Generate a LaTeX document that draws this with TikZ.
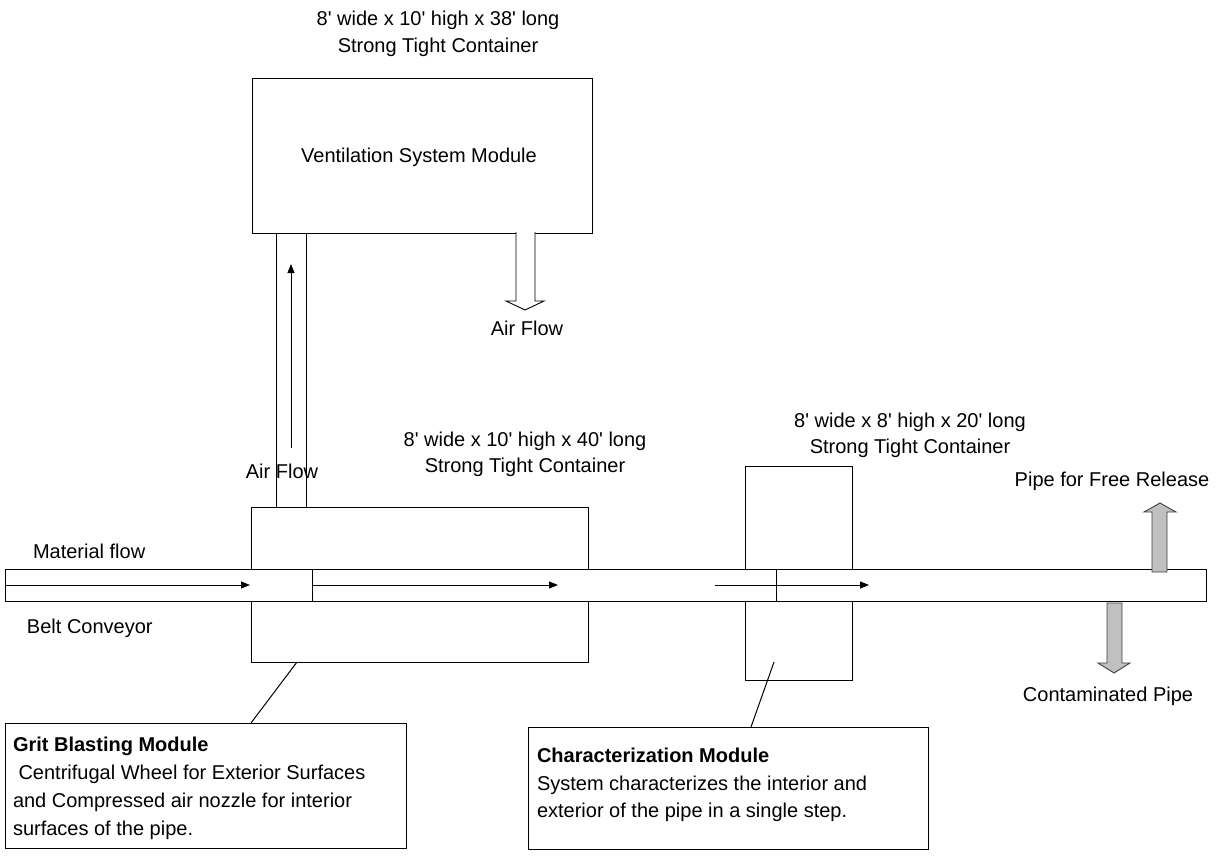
\documentclass[tikz,border=0pt]{standalone}
\usepackage{fontspec}
\setmainfont{Liberation Sans}
\usetikzlibrary{arrows.meta,calc}
\definecolor{pipegray}{RGB}{192,192,192}
\newcommand{\ap}{\textquotesingle}
\begin{document}
\begin{tikzpicture}[x=1pt,y=-1pt,line width=1pt,
  txt/.style={font=\fontsize{20}{27}\selectfont,inner sep=0pt,outer sep=0pt},
  rbox/.style={draw=black,fill=white,inner sep=0pt,outer sep=0pt,anchor=north west},
  flow/.style={-{Triangle[length=9pt,width=7pt]}},
  grayarrow/.style={draw=black!75,fill=pipegray,line width=0.9pt},
  ]
\useasboundingbox[fill=white] (0,0) rectangle (1225,856);

% Ventilation container
\node[rbox,minimum width=340pt,minimum height=154pt] (vent) at (252,79) {};
\node[txt,anchor=base] (venttxt) at (419,162) {Ventilation System Module};
\node[txt,anchor=base] (venttitle1) at (438,26) {8\ap{} wide x 10\ap{} high x 38\ap{} long};
\node[txt,anchor=base] (venttitle2) at (438,53) {Strong Tight Container};

% Duct from grit blasting to ventilation
\node[rbox,minimum width=30pt,minimum height=274pt] (duct) at (276,233) {};

% Grit blasting container
\node[rbox,minimum width=337pt,minimum height=155pt] (grit) at (251,507) {};
\node[txt,anchor=base] (grittitle1) at (525,446) {8\ap{} wide x 10\ap{} high x 40\ap{} long};
\node[txt,anchor=base] (grittitle2) at (525,472) {Strong Tight Container};

% Characterization container
\node[rbox,minimum width=107pt,minimum height=214pt] (char) at (745,466) {};
\node[txt,anchor=base] (chartitle1) at (910,427) {8\ap{} wide x 8\ap{} high x 20\ap{} long};
\node[txt,anchor=base] (chartitle2) at (910,453) {Strong Tight Container};

% Belt conveyor
\node[rbox,minimum width=1201pt,minimum height=32pt] (conv) at (5,569) {};
\draw (conv.north west -| 312,0) -- (conv.south west -| 312,0);
\draw (conv.north west -| 776,0) -- (conv.south west -| 776,0);
\node[txt,anchor=base west] (matflow) at (33,558) {Material flow};
\node[txt,anchor=base west] (beltconv) at (27,633) {Belt Conveyor};

% flow arrows on the conveyor
\coordinate (f1s) at (5,585);   \coordinate (f1e) at (250,585);
\coordinate (f2s) at (312,585); \coordinate (f2e) at (558,585);
\coordinate (f3s) at (715,585); \coordinate (f3e) at (869,585);
\draw[flow] (f1s) -- (f1e);
\draw[flow] (f2s) -- (f2e);
\draw[flow] (f3s) -- (f3e);

% air flow up the duct
\coordinate (a1s) at (291,448); \coordinate (a1e) at (291,264);
\draw[flow] (a1s) -- (a1e);
\node[txt,anchor=base] (airflow1) at (282,478) {Air Flow};

% air flow out of ventilation (hollow block arrow)
\filldraw[draw=black,fill=white,line width=0.9pt]
  (516,232) -- (516,301) -- (506,301) -- (525,310) -- (544,301) -- (535,301) -- (535,232);
\node[txt,anchor=base] (airflow2) at (527,335) {Air Flow};

% pipe for free release (gray up arrow)
\filldraw[grayarrow]
  (1152,572) -- (1152,512) -- (1144,512) -- (1160,503) -- (1176,512) -- (1167,512) -- (1167,572) -- cycle;
\node[txt,anchor=base] (freerel) at (1112,486) {Pipe for Free Release};

% contaminated pipe (gray down arrow)
\filldraw[grayarrow]
  (1107,603) -- (1107,663) -- (1098,663) -- (1114,673) -- (1130,663) -- (1122,663) -- (1122,603) -- cycle;
\node[txt,anchor=base] (contam) at (1108,701) {Contaminated Pipe};

% Grit blasting label
\node[rbox,minimum width=401pt,minimum height=125pt] (gritlbl) at (5,723) {};
\node[txt,anchor=base west] (g1) at (13,751) {\bfseries Grit Blasting Module};
\node[txt,anchor=base west] (g2) at (13,779) {\ Centrifugal Wheel for Exterior Surfaces};
\node[txt,anchor=base west] (g3) at (13,807) {and Compressed air nozzle for interior};
\node[txt,anchor=base west] (g4) at (13,835) {surfaces of the pipe.};
\draw ($(grit.south west)+(46,0)$) -- ($(gritlbl.north west)+(246,0)$);

% Characterization label
\node[rbox,minimum width=400pt,minimum height=122pt] (charlbl) at (528,727) {};
\node[txt,anchor=base west] (c1) at (537,762) {\bfseries Characterization Module};
\node[txt,anchor=base west] (c2) at (537,790) {System characterizes the interior and};
\node[txt,anchor=base west] (c3) at (537,817) {exterior of the pipe in a single step.};
\draw ($(char.south west)+(29,-18)$) -- ($(charlbl.north west)+(223,0)$);
\end{tikzpicture}
\end{document}
